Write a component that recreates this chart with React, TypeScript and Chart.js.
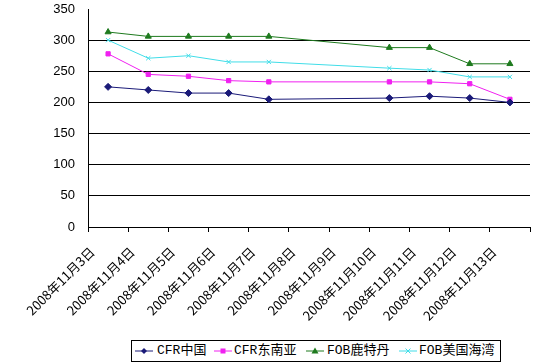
import React, { useEffect, useRef } from "react";
import { Chart, registerables } from "chart.js";

Chart.register(...registerables);

const categories = [
  "2008年11月3日", "2008年11月4日", "2008年11月5日", "2008年11月6日",
  "2008年11月7日", "2008年11月8日", "2008年11月9日", "2008年11月10日",
  "2008年11月11日", "2008年11月12日", "2008年11月13日",
];
const cfrChina = [225, 220, 215, 215, 205, null, null, 207, 210, 207, 200];
const cfrSEA = [278, 245, 242, 235, 233, null, null, 233, 233, 230, 205];
const fobRotterdam = [313, 306, 306, 306, 306, null, null, 288, 288, 262, 262];
const fobUSGulf = [300, 271, 275, 265, 265, null, null, 255, 252, 241, 241];
const seriesNames = ["CFR中国", "CFR东南亚", "FOB鹿特丹", "FOB美国海湾"];
const yTicks = [0, 50, 100, 150, 200, 250, 300, 350];

const colors = ["#1A1A78", "#F020F0", "#1E7A1E", "#40DDE8"];
const markers = ["rectRot", "rect", "triangle", "crossRot"];
const markerSize = [3.5, 3, 3.5, 3];

function LegendSymbol({ i }: { i: number }) {
  const c = colors[i];
  let m: React.ReactNode = null;
  if (i === 0) m = <polygon points="9,1 12,4 9,7 6,4" fill={c} />;
  if (i === 1) m = <rect x="6.5" y="1.5" width="5" height="5" fill={c} />;
  if (i === 2) m = <polygon points="9,0.5 12.5,6.5 5.5,6.5" fill={c} />;
  if (i === 3)
    m = (
      <g stroke={c} strokeWidth="1">
        <line x1="6.5" y1="1.5" x2="11.5" y2="6.5" />
        <line x1="11.5" y1="1.5" x2="6.5" y2="6.5" />
      </g>
    );
  return (
    <svg width="18" height="8" style={{ display: "block" }}>
      <line x1="0" y1="4" x2="18" y2="4" stroke={c} strokeWidth="1" />
      {m}
    </svg>
  );
}

export default function App() {
  const ref = useRef<HTMLCanvasElement>(null);
  useEffect(() => {
    const datasets = [cfrChina, cfrSEA, fobRotterdam, fobUSGulf].map((d, i) => ({
      label: seriesNames[i],
      data: d,
      borderColor: colors[i],
      backgroundColor: colors[i],
      borderWidth: 1,
      pointStyle: markers[i] as any,
      pointRadius: markerSize[i],
      pointBorderWidth: 1,
      pointBorderColor: colors[i],
      pointBackgroundColor: colors[i],
      spanGaps: true,
      tension: 0,
    }));
    const chart = new Chart(ref.current!, {
      type: "line",
      data: { labels: categories, datasets },
      options: {
        animation: false,
        responsive: false,
        devicePixelRatio: 1,
        layout: { padding: { left: 0, right: 13, top: 9, bottom: 0 } },
        plugins: { legend: { display: false }, tooltip: { enabled: false } },
        scales: {
          x: {
            offset: true,
            grid: {
              offset: true,
              drawOnChartArea: false,
              drawTicks: true,
              tickLength: 5,
              color: "#000",
            },
            border: { color: "#000", width: 1 },
            ticks: {
              autoSkip: false,
              maxRotation: 45,
              minRotation: 45,
              color: "#000",
              padding: 12,
              labelOffset: -16,
              font: { family: "'Noto Sans CJK SC', sans-serif", size: 13 },
            },
            afterFit: (s: any) => {
              s.height = 364 - 227;
              s.paddingLeft = 0;
              s.paddingRight = 0;
              s.paddingTop = 0;
              s.paddingBottom = 0;
            },
          },
          y: {
            min: 0,
            max: 350,
            afterBuildTicks: (s: any) => {
              s.ticks = yTicks.map((v) => ({ value: v }));
            },
            grid: {
              drawTicks: false,
              color: (ctx: any) => (ctx.tick && ctx.tick.value === 350 ? "rgba(0,0,0,0)" : "#000"),
              lineWidth: 1,
            },
            border: { color: "#000", width: 1 },
            ticks: {
              color: "#000",
              padding: 13,
              font: { family: "'Liberation Sans', Arial, sans-serif", size: 13 },
            },
            afterFit: (s: any) => {
              s.width = 88;
              s.paddingTop = 0;
              s.paddingBottom = 0;
            },
          },
        },
      },
    });
    return () => chart.destroy();
  }, []);

  const itemPos = [
    { sym: 135, text: 157 },
    { sym: 214, text: 234 },
    { sym: 306, text: 327 },
    { sym: 399, text: 419 },
  ];

  return (
    <div style={{ position: "fixed", left: 0, top: 0, width: 543, height: 364, background: "#fff", overflow: "hidden" }}>
      <canvas ref={ref} width={543} height={364} style={{ display: "block", width: 543, height: 364 }} />
      <div
        style={{
          position: "absolute",
          left: 131,
          top: 340,
          width: 370,
          height: 22,
          border: "1px solid #000",
          boxSizing: "border-box",
          background: "#fff",
        }}
      />
      {seriesNames.map((n, i) => (
        <React.Fragment key={n}>
          <div style={{ position: "absolute", left: itemPos[i].sym, top: 347 }}>
            <LegendSymbol i={i} />
          </div>
          <div
            style={{
              position: "absolute",
              left: itemPos[i].text,
              top: 342,
              fontFamily: "'Liberation Mono', 'Noto Sans CJK SC', monospace",
              fontSize: 13,
              lineHeight: "18px",
              color: "#000",
              whiteSpace: "nowrap",
            }}
          >
            {n}
          </div>
        </React.Fragment>
      ))}
    </div>
  );
}
